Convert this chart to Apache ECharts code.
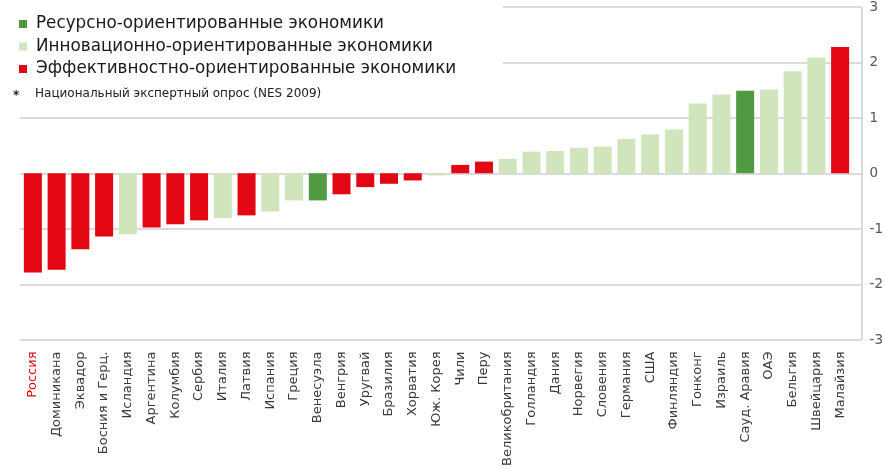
<!DOCTYPE html>
<html>
<head>
<meta charset="utf-8">
<script src="https://cdn.jsdelivr.net/npm/echarts@6/dist/echarts.min.js"></script>
<style>
  html, body { margin: 0; padding: 0; background: #fff; }
  #chart { width: 886px; height: 469px; }
</style>
</head>
<body>
<div id="chart"></div>
<script>
// страны, по возрастанию
var countries = ['Россия', 'Доминикана', 'Эквадор', 'Босния и Герц.', 'Исландия', 'Аргентина',
    'Колумбия', 'Сербия', 'Италия', 'Латвия', 'Испания', 'Греция', 'Венесуэла', 'Венгрия',
    'Уругвай', 'Бразилия', 'Хорватия', 'Юж. Корея', 'Чили', 'Перу', 'Великобритания',
    'Голландия', 'Дания', 'Норвегия', 'Словения', 'Германия', 'США', 'Финляндия', 'Гонконг',
    'Израиль', 'Сауд. Аравия', 'ОАЭ', 'Бельгия', 'Швейцария', 'Малайзия'];

// тип экономики: r - ресурсная, i - инновационная, e - эффективностная
var types = ['e', 'e', 'e', 'e', 'i', 'e', 'e', 'e', 'i', 'e', 'i', 'i', 'r', 'e',
    'e', 'e', 'e', 'i', 'e', 'e', 'i', 'i', 'i', 'i', 'i', 'i', 'i', 'i', 'i',
    'i', 'r', 'i', 'i', 'i', 'e'];

var values = [-1.79, -1.74, -1.37, -1.14, -1.10, -0.98, -0.92, -0.85, -0.81, -0.76, -0.69,
    -0.49, -0.49, -0.38, -0.25, -0.19, -0.13, -0.04, 0.15, 0.21, 0.26, 0.39, 0.40, 0.46,
    0.48, 0.62, 0.70, 0.79, 1.26, 1.42, 1.49, 1.51, 1.84, 2.09, 2.28];

var yTicks = [-3, -2, -1, 0, 1, 2, 3];

var groupNames = {
    r: 'Ресурсно-ориентированные экономики',
    i: 'Инновационно-ориентированные экономики',
    e: 'Эффективностно-ориентированные экономики'
};
var groupColors = { r: '#519a41', i: '#d0e5bb', e: '#e30613' };

var FONT = 'DejaVu Sans';

function pick(t) {
    return values.map(function(v, k) { return types[k] === t ? v : '-'; });
}

var series = ['r', 'i', 'e'].map(function(t) {
    return {
        name: groupNames[t],
        type: 'bar',
        stack: 'all',
        xAxisIndex: 1,
        yAxisIndex: 1,
        barWidth: 18,
        itemStyle: { color: groupColors[t] },
        data: pick(t)
    };
});

var option = {
    animation: false,
    backgroundColor: '#fff',
    textStyle: { fontFamily: FONT },
    grid: [
        { left: 20, right: 24, top: 7, bottom: 129 },
        { left: 21, right: 34, top: 7, bottom: 129 }
    ],
    xAxis: [
        {
            // только правая вертикальная линия оси
            type: 'category', gridIndex: 0, data: ['', ''], boundaryGap: false,
            axisLine: { show: false }, axisTick: { show: false }, axisLabel: { show: false },
            splitLine: {
                show: true,
                interval: function(i) { return i === 1; },
                lineStyle: { color: '#cfcfcf', width: 1.5 }
            }
        },
        {
            type: 'category',
            gridIndex: 1,
            data: countries,
            axisLine: { show: false },
            axisTick: { show: false },
            axisLabel: {
                interval: 0,
                rotate: 90,
                margin: 12,
                fontSize: 13,
                color: '#3a3a3a',
                fontFamily: FONT,
                formatter: function(v, i) {
                    return i === 0 ? '{ru|' + v + '}' : v;
                },
                rich: { ru: { color: '#e30613', fontSize: 13, fontFamily: FONT } }
            }
        }
    ],
    yAxis: [
        {
            type: 'value',
            gridIndex: 0,
            position: 'right',
            min: yTicks[0],
            max: yTicks[yTicks.length - 1],
            interval: 1,
            axisLine: { show: false },
            axisTick: { show: false },
            splitLine: { lineStyle: { color: '#cfcfcf', width: 1.5 } },
            axisLabel: { margin: 8, fontSize: 13.5, color: '#555', fontFamily: FONT }
        },
        {
            type: 'value', gridIndex: 1, show: false, min: -3, max: 3,
            axisLine: { show: false }, splitLine: { show: false }
        }
    ],
    legend: {
        orient: 'vertical',
        left: 14,
        top: 10.5,
        itemWidth: 8,
        itemHeight: 8,
        itemGap: 5.5,
        icon: 'rect',
        z: 6,
        textStyle: { fontSize: 16.8, lineHeight: 16.8, color: '#1a1a1a', fontFamily: FONT, padding: [0, 0, 0, 4] },
        data: [groupNames.r, groupNames.i, groupNames.e]
    },
    graphic: [
        { type: 'rect', z: 5, shape: { x: 0, y: 0, width: 503, height: 72 }, style: { fill: '#fff' } },
        { type: 'text', z: 7, left: 13, top: 90, style: { text: '*', font: 'bold 12px ' + FONT, fill: '#222' } },
        { type: 'text', z: 7, left: 35, top: 88, style: { text: 'Национальный экспертный опрос (NES 2009)', font: '12px ' + FONT, fill: '#222' } }
    ],
    series: series
};

var chart = echarts.init(document.getElementById('chart'));
chart.setOption(option);
</script>
</body>
</html>
